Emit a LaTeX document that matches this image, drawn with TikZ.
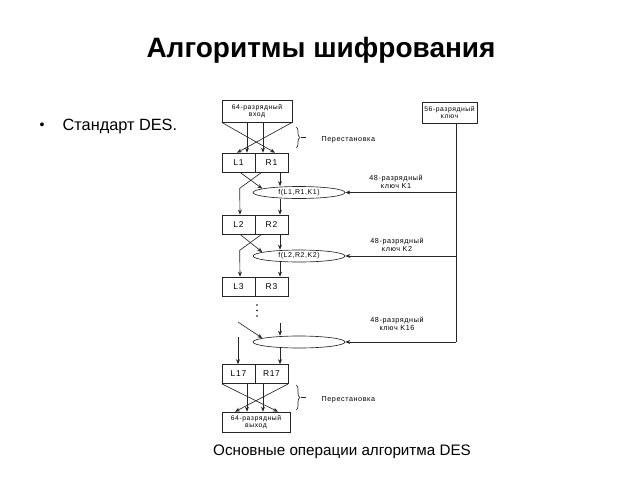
\documentclass[tikz,border=0pt]{standalone}
\usepackage{fontspec}
\setmainfont{Liberation Sans}
\newfontfamily\dfont[LetterSpace=8]{Liberation Sans}
\usetikzlibrary{shapes.geometric,arrows.meta,decorations.pathreplacing}

\tikzset{
    box/.style={draw, inner sep=0pt, align=center, font=\dfont\fontsize{6.8}{7}\selectfont},
    cell/.style={draw, minimum width=33, minimum height=19, inner sep=0pt, font=\dfont\fontsize{8.5}{9}\selectfont},
    fbox/.style={draw, ellipse, minimum width=92, minimum height=12, inner sep=0pt, font=\dfont\fontsize{7}{7}\selectfont},
    lbl/.style={align=center, font=\dfont\fontsize{7.2}{8.5}\selectfont},
    arr/.style={-{Stealth[length=5pt,width=4pt]}},
    brc/.style={decorate, decoration={brace, amplitude=4pt}},
}

\begin{document}
\begin{tikzpicture}[x=1pt, y=-1pt, line width=0.65pt, draw=black!85]
    \useasboundingbox (0,0) rectangle (640,480);

    % Title and text
    \node (title) at (321,50) {\fontsize{28}{32}\selectfont\bfseries Алгоритмы шифрования};
    \node [anchor=west] (bullet) at (36,126) {\fontsize{14}{16}\selectfont •};
    \node [anchor=west] (std) at (59,126) {\fontsize{16.3}{18}\selectfont Стандарт DES.};
    \node (caption) at (342,452) {\fontsize{15.2}{18}\selectfont Основные операции алгоритма DES};

    % Input and key boxes
    \node [box, minimum width=70, minimum height=22] (in) at (257,111) {64-разрядный\\вход};
    \node [box, minimum width=55, minimum height=21] (key) at (449.5,113) {56-разрядный\\ключ};

    % Rounds
    \node [cell] (l1) at (238.5,162.5) {L1};
    \node [cell] (r1) at (271.5,162.5) {R1};
    \node [fbox] (f1) at (299,192.5) {f(L1,R1,K1)};
    \node [cell] (l2) at (238.5,224.5) {L2};
    \node [cell] (r2) at (271.5,224.5) {R2};
    \node [fbox] (f2) at (299,256) {f(L2,R2,K2)};
    \node [cell] (l3) at (238.5,286.5) {L3};
    \node [cell] (r3) at (271.5,286.5) {R3};
    \node [fbox] (f3) at (299,342) {};
    \node [cell] (l17) at (238.5,374) {L17};
    \node [cell] (r17) at (271.5,374) {R17};
    \node [box, minimum width=68, minimum height=20] (out) at (256,422) {64-разрядный\\выход};

    % Initial permutation
    \draw [arr] (in.south west) -- ([xshift=3.5]r1.north);
    \draw [arr] (in.south east) -- ([xshift=-1.5]l1.north);
    \draw [arr] ([xshift=-10]in.south) -- ([xshift=8.5]l1.north);
    \draw [arr] ([xshift=6]in.south) -- ([xshift=-8.5]r1.north);
    \draw [brc] (296,127) -- (296,148);
    \draw (301,137.5) -- (306,137.5);
    \node [lbl, anchor=west] (perm1) at (318,140) {Перестановка};

    % Key line
    \coordinate (k1) at (456,192.5);
    \coordinate (k2) at (456,256);
    \coordinate (k3) at (456,342);
    \draw (key.south -| k1) -- (k3);
    \draw [arr] (k1) -- (f1);
    \draw [arr] (k2) -- (f2);
    \draw [arr] (k3) -- (f3);
    \node [lbl] (kl1) at (396,182) {48-разрядный\\ключ K1};
    \node [lbl] (kl2) at (397,245) {48-разрядный\\ключ K2};
    \node [lbl] (kl3) at (397,324) {48-разрядный\\ключ K16};

    % Round 1
    \draw [arr] ([xshift=1.5]l1.south) -- (f1.174);
    \draw [arr] ([xshift=7]r1.south west) -- ++(-22,16) -- ([xshift=1.5]l2.north);
    \draw [arr] ([xshift=8.5]r1.south) -- ([xshift=8.5]r1.south |- f1.north);
    \draw [arr] ([xshift=8.5]r2.north |- f1.south) -- ([xshift=8.5]r2.north);

    % Round 2
    \draw [arr] ([xshift=1.5]l2.south) -- (f2.174);
    \draw [arr] ([xshift=7]r2.south west) -- ++(-22,16) -- ([xshift=1.5]l3.north);
    \draw [arr] ([xshift=8.5]r2.south) -- ([xshift=8.5]r2.south |- f2.north);
    \draw [arr] ([xshift=8.5]r3.north |- f2.south) -- ([xshift=8.5]r3.north);

    % Dots
    \fill (257,305) circle [radius=0.9];
    \fill (257,310.5) circle [radius=0.9];
    \fill (257,316) circle [radius=0.9];

    % Round 16
    \coordinate (d1) at (238,322);
    \coordinate (d2) at (280,323);
    \coordinate (d3) at (238,337);
    \draw [arr] (d1) -- (f3.174);
    \draw [arr] (d2) -- (d2 |- f3.north);
    \draw [arr] (d3) -- (d3 |- l17.north);
    \draw [arr] ([xshift=8.5]r17.north |- f3.south) -- ([xshift=8.5]r17.north);

    % Final permutation
    \draw [arr] (l17.south west) -- ([xshift=22]out.north);
    \draw [arr] (r17.south east) -- ([xshift=-21]out.north);
    \draw [arr] ([xshift=8.5]l17.south) -- ([xshift=-9]out.north);
    \draw [arr] ([xshift=-8.5]r17.south) -- ([xshift=7]out.north);
    \draw [brc] (296,385) -- (296,410);
    \draw (301,397.5) -- (306,397.5);
    \node [lbl, anchor=west] (perm2) at (318,400) {Перестановка};
\end{tikzpicture}
\end{document}
